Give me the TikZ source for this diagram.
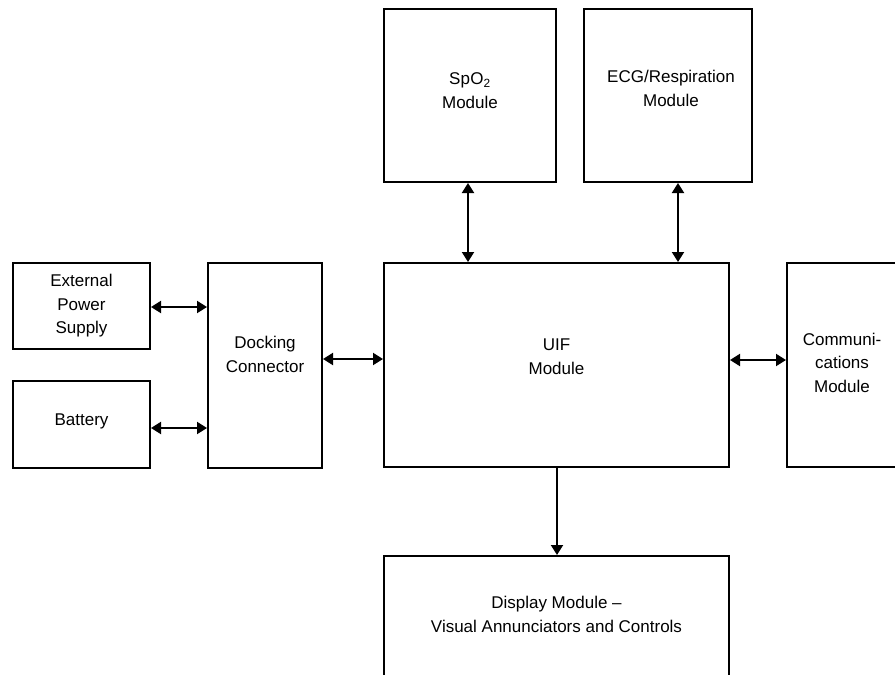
\documentclass[tikz,border=0pt]{standalone}
\usepackage{fontspec}
\setmainfont{Liberation Sans}
\usetikzlibrary{arrows.meta}
\begin{document}
\begin{tikzpicture}[x=1pt,y=-1pt,
  blk/.style={draw,line width=2pt,inner sep=0pt},
  txt/.style={inner sep=0pt,align=center,font=\fontsize{17}{23.5}\selectfont},
  conn/.style={line width=2pt},
  tip/.tip={Triangle[length=10pt,width=12pt]},
  both/.style={conn,tip-tip},
  one/.style={conn,-tip}]
\useasboundingbox (0,0) rectangle (895,675);
\clip (0,0) rectangle (895,675);
\fill[white] (0,0) rectangle (895,675);
\node[blk,minimum width=172pt,minimum height=173pt] (spo2) at (470,95.5) {};
\node[blk,minimum width=168pt,minimum height=173pt] (ecg) at (668,95.5) {};
\node[blk,minimum width=345pt,minimum height=204pt] (uif) at (556.5,365) {};
\node[blk,minimum width=137pt,minimum height=86pt] (ext) at (81.5,306) {};
\node[blk,minimum width=137pt,minimum height=87pt] (bat) at (81.5,424.5) {};
\node[blk,minimum width=114pt,minimum height=205pt] (dock) at (265,365.5) {};
\node[blk,minimum width=110pt,minimum height=204pt] (comm) at (842,365) {};
\node[blk,minimum width=345pt,minimum height=122pt] (disp) at (556.5,617) {};
\node[txt] (spo2t) at ([yshift=5pt]spo2.center) {Sp\kern0.5ptO\textsubscript{2}\\Module};
\node[txt] (ecgt) at ([xshift=3pt,yshift=7pt]ecg.center) {ECG/Respiration\\Module};
\node[txt] (uift) at ([yshift=8.5pt]uif.center) {UIF\\Module};
\node[txt] (extt) at (ext.center) {External\\Power\\Supply};
\node[txt] (batt) at ([yshift=3pt]bat.center) {Battery};
\node[txt] (dockt) at ([yshift=11pt]dock.center) {Docking\\Connector};
\node[txt] (commt) at ([yshift=2.5pt]comm.center) {Communi-\\cations\\Module};
\node[txt] (dispt) at ([yshift=2.5pt]disp.center) {Display Module --\\Visual Annunciators and Controls};
\draw[both] ([xshift=-2pt]spo2.south) -- ([xshift=-2pt]spo2.south |- uif.north);
\draw[both] ([xshift=10pt]ecg.south) -- ([xshift=10pt]ecg.south |- uif.north);
\draw[both] ([yshift=-1pt]ext.east) -- ([yshift=-1pt]ext.east -| dock.west);
\draw[both] ([yshift=-3.5pt]bat.east) -- ([yshift=-3.5pt]bat.east -| dock.west);
\draw[both] ([yshift=6.5pt]dock.east) -- ([yshift=6.5pt]dock.east -| uif.west);
\draw[both] ([yshift=5pt]uif.east) -- ([yshift=5pt]uif.east -| comm.west);
\draw[one] ([xshift=0.5pt]uif.south) -- ([xshift=0.5pt]uif.south |- disp.north);
\end{tikzpicture}
\end{document}
